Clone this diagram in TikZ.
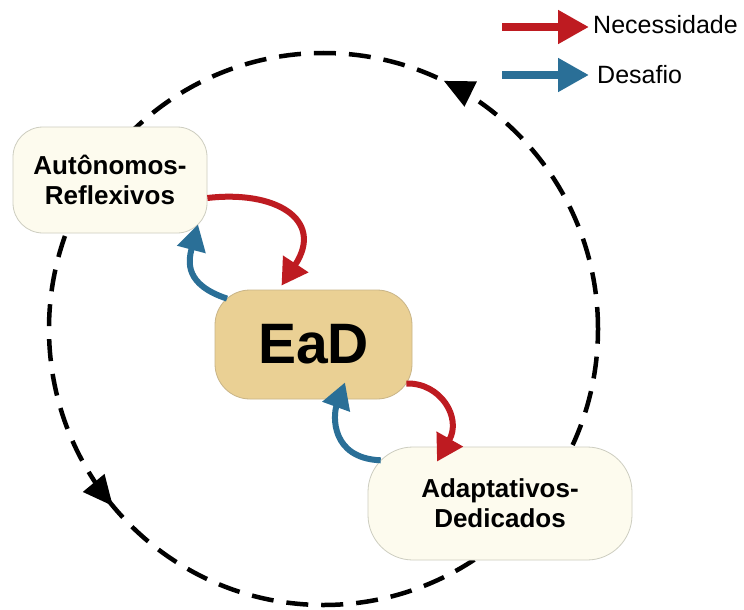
\documentclass[tikz,border=0pt]{standalone}
\usepackage{fontspec}
\setmainfont{Liberation Sans}
\usetikzlibrary{arrows.meta,decorations.markings,calc}
\pgfdeclarelayer{background}
\pgfsetlayers{background,main}
\definecolor{necred}{RGB}{190,27,33}
\definecolor{desblue}{RGB}{42,111,151}
\definecolor{cream}{RGB}{253,251,238}
\definecolor{creamline}{RGB}{205,205,192}
\definecolor{tan}{RGB}{234,208,148}
\definecolor{tanline}{RGB}{200,180,135}
\tikzset{
  lightbox/.style={draw=creamline, line width=0.8pt, fill=cream, rounded corners=#1,
    font=\fontsize{26}{30}\selectfont\bfseries, align=center, inner sep=0pt},
  centerbox/.style={draw=tanline, line width=0.8pt, fill=tan, rounded corners=35pt,
    font=\fontsize{57}{60}\selectfont\bfseries, inner sep=0pt,
    minimum width=197pt, minimum height=109pt},
  necarrow/.style={draw=necred, line width=6pt, -{Triangle[length=26pt,width=29pt]}},
  desarrow/.style={draw=desblue, line width=6pt, -{Triangle[length=26pt,width=28pt]}},
  legnec/.style={draw=necred, line width=8pt, -{Triangle[length=31pt,width=32pt]}},
  legdes/.style={draw=desblue, line width=8pt, -{Triangle[length=31pt,width=32pt]}},
  legtext/.style={font=\fontsize{25}{28}\selectfont, anchor=base west, inner sep=0pt},
  cyclepath/.style={draw=black, line width=4.5pt, dash pattern=on 22pt off 13pt,
    postaction={decorate},
    decoration={markings,
      mark=at position 0.178 with {\arrow[solid]{Triangle[length=30pt,width=27pt]}},
      mark=at position 0.611 with {\arrow[solid]{Triangle[length=30pt,width=27pt]}}}}
}
\begin{document}
\begin{tikzpicture}[x=1pt,y=-1pt]
\useasboundingbox (0,0) rectangle (744,610);

\begin{pgfonlayer}{background}
\fill[white] (0,0) rectangle (744,610);
% cycle circle
\coordinate (cc) at (323.5,329);
\draw[cyclepath] ($(cc)+(274.5,0)$) arc[start angle=360, end angle=0, x radius=274.5, y radius=276];
\end{pgfonlayer}

% nodes
\node[lightbox=30pt, minimum width=194pt, minimum height=106pt] (auto) at (110,180) {Autônomos-\\Reflexivos};
\node[centerbox] (ead) at (313.5,344.5) {EaD};
\node[lightbox=45pt, minimum width=264pt, minimum height=113pt] (adap) at (500,503.5) {Adaptativos-\\Dedicados};

% arrows, starting on the box outlines
\draw[necarrow] ([yshift=-18pt]auto.east) .. controls +(68,-8) and +(43.5,-66) .. ([xshift=-32pt,yshift=4pt]ead.north);
\draw[desarrow] ([xshift=-86.5pt,yshift=-9pt]ead.north) .. controls +(-42,-14) and +(-10,38) .. ([xshift=88pt,yshift=9pt]auto.south);
\draw[necarrow] ([xshift=-6pt,yshift=-39pt]ead.east) .. controls +(34,-1) and +(25,-44) .. ([xshift=-63pt,yshift=-15pt]adap.north);
\draw[desarrow] ([xshift=-119.3pt,yshift=-13.7pt]adap.north) .. controls +(-50,-2) and +(-12,33) .. ([xshift=31.5pt,yshift=17pt]ead.south);

% legend
\coordinate (l1s) at (502,27);
\coordinate (l1e) at (589,27);
\coordinate (l2s) at (502,75);
\coordinate (l2e) at (589,75);
\draw[legnec] (l1s) -- (l1e);
\draw[legdes] (l2s) -- (l2e);
\node[legtext] (t1) at (593,34) {Necessidade};
\node[legtext] (t2) at (597,83) {Desafio};
\end{tikzpicture}
\end{document}
